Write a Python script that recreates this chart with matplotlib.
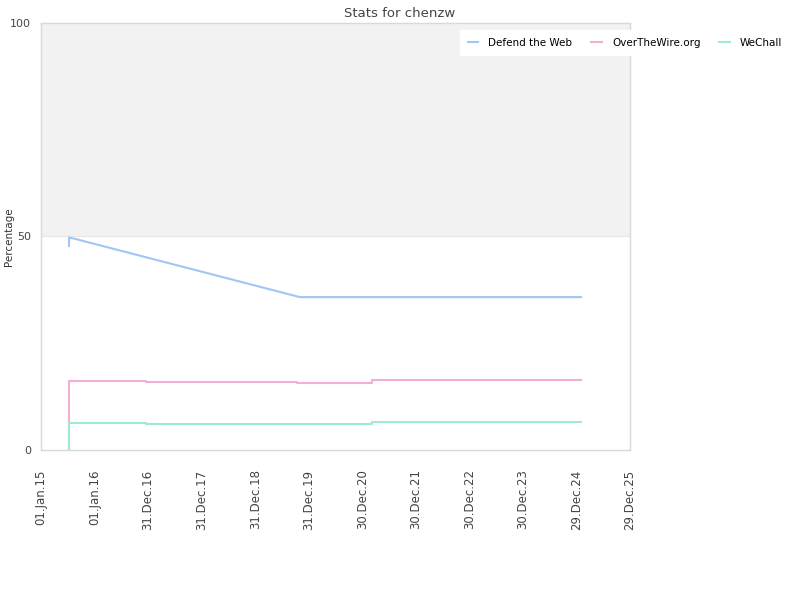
import matplotlib
matplotlib.use("Agg")
import matplotlib.pyplot as plt
import pandas as pd

title = "Stats for chenzw"
ylabel = "Percentage"

dtw_dates = ["2015-07-11", "2015-07-12", "2019-11-01", "2025-01-29"]
dtw_vals = [47.8, 49.8, 35.8, 35.8]

otw_dates = ["2015-07-11", "2015-07-12", "2016-12-17", "2019-10-12", "2021-03-06", "2025-01-29"]
otw_vals = [0.0, 16.2, 16.0, 15.8, 16.3, 16.3]

wc_dates = ["2015-07-11", "2015-07-12", "2016-12-17", "2019-10-12", "2021-03-06", "2025-01-29"]
wc_vals = [0.0, 6.4, 6.2, 6.0, 6.6, 6.6]

tick_dates = ["2015-01-01", "2016-01-01", "2016-12-31", "2017-12-31", "2018-12-31",
              "2019-12-31", "2020-12-30", "2021-12-30", "2022-12-30", "2023-12-30",
              "2024-12-29", "2025-12-29"]
tick_labels = ["01.Jan.15", "01.Jan.16", "31.Dec.16", "31.Dec.17", "31.Dec.18",
               "31.Dec.19", "30.Dec.20", "30.Dec.21", "30.Dec.22", "30.Dec.23",
               "29.Dec.24", "29.Dec.25"]

colors = {"Defend the Web": "#9fc6f4", "OverTheWire.org": "#f5aed3", "WeChall": "#9decca"}

fig = plt.figure(figsize=(8, 6), dpi=100)
ax = fig.add_axes([0.05125, 0.25, 0.73625, 0.7117])

td = pd.to_datetime(tick_dates)
ax.set_xlim(td[0], td[-1])
ax.set_ylim(0, 100)
ax.axhspan(50, 100, color="#f2f2f2", zorder=0, lw=0)
ax.axhline(50, color="#e6e6e6", lw=0.8, zorder=0.5)

series = [("Defend the Web", dtw_dates, dtw_vals),
          ("OverTheWire.org", otw_dates, otw_vals),
          ("WeChall", wc_dates, wc_vals)]
for name, d, v in series:
    ax.plot(pd.to_datetime(d), v, color=colors[name], lw=1.5, label=name,
            drawstyle="steps-post" if name != "Defend the Web" else "default")

ax.set_xticks(td)
ax.set_xticklabels(tick_labels, rotation=90, fontsize=8.5, color="#444444")
ax.set_yticks([0, 50, 100])
ax.set_yticklabels(["0", "50", "100"], fontsize=8, color="#444444")
ax.tick_params(axis="x", length=0, pad=14)
ax.tick_params(axis="y", length=0, pad=7)
for s in ax.spines.values():
    s.set_color("#d9d9d9")
    s.set_linewidth(1)

fig.text(0.011, 0.605, ylabel, rotation=90, ha="center", va="center",
         fontsize=7.5, color="#333333")
fig.text(0.5, 0.978, title, ha="center", va="center", fontsize=9.5, color="#444444")

leg = ax.legend(loc="upper left", bbox_to_anchor=(0.703, 0.995), ncol=3, frameon=True,
                fontsize=7.5, handlelength=1.0, columnspacing=1.8, handletextpad=1.0,
                borderpad=0.7, fancybox=False)
leg.get_frame().set_facecolor("white")
leg.get_frame().set_edgecolor("white")
leg.get_frame().set_alpha(1)

fig.savefig("out.png", dpi=100)
